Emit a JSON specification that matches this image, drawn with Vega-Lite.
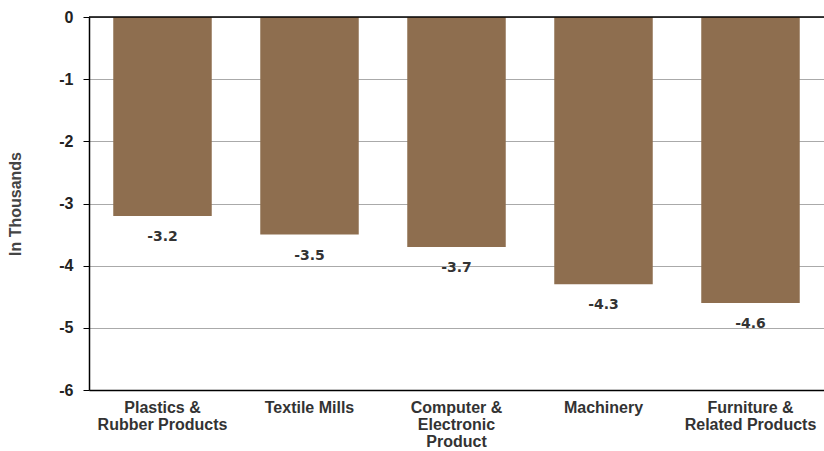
{
  "$schema": "https://vega.github.io/schema/vega-lite/v6.json",
  "width": 735,
  "height": 373,
  "autosize": "none",
  "padding": {"left": 89, "top": 17, "right": 0, "bottom": 61},
  "background": "white",
  "config": {"view": {"stroke": null}, "font": "Liberation Sans",
    "locale": {"number": {"decimal": ".", "thousands": ",", "grouping": [3], "currency": ["$", ""], "minus": "-"}}},
  "data": {"values": [
    {"category": "Plastics &|Rubber Products", "value": -3.2},
    {"category": "Textile Mills", "value": -3.5},
    {"category": "Computer &|Electronic|Product", "value": -3.7},
    {"category": "Machinery", "value": -4.3},
    {"category": "Furniture &|Related Products", "value": -4.6}
  ]},
  "encoding": {
    "x": {"field": "category", "type": "nominal", "sort": null,
      "scale": {"paddingInner": 0.33, "paddingOuter": 0.165},
      "axis": {"title": null, "labelAngle": 0, "labelExpr": "split(datum.label, '|')",
        "labelFont": "Liberation Sans", "labelFontWeight": "bold", "labelFontSize": 16, "labelColor": "#333333",
        "labelPadding": 9, "labelLineHeight": 17, "ticks": false, "domainColor": "#000000", "domainWidth": 1.5,
        "labelBaseline": "top", "labelOverlap": false, "labelBound": false}}
  },
  "layer": [
    {
      "mark": {"type": "bar", "color": "#8E6E4F"},
      "encoding": {
        "y": {"field": "value", "type": "quantitative",
          "scale": {"domain": [-6, 0], "nice": false},
          "axis": {"title": "In Thousands", "titleFont": "Liberation Sans", "titleFontSize": 16, "titleFontWeight": "bold", "titleColor": "#444444",
            "titlePadding": 35, "values": [0, -1, -2, -3, -4, -5, -6], "labelOverlap": false, "format": "d",
            "labelFont": "Liberation Sans", "labelFontWeight": "bold", "labelFontSize": 16, "labelColor": "#222222",
            "labelPadding": 10, "tickSize": 6, "tickColor": "#000000", "domainColor": "#000000", "domainWidth": 1.5,
            "gridColor": "#aaaaaa", "gridWidth": 1}}
      }
    },
    {
      "mark": {"type": "text", "baseline": "middle", "dy": 21, "font": "DejaVu Sans", "fontWeight": "bold", "fontSize": 14, "color": "#333333"},
      "encoding": {
        "y": {"field": "value", "type": "quantitative"},
        "text": {"field": "value", "type": "quantitative", "format": ".1f"}
      }
    },
    {
      "data": {"values": [{"z": 0}]},
      "mark": {"type": "rule", "color": "#000000", "strokeWidth": 1.5},
      "encoding": {"y": {"field": "z", "type": "quantitative"}, "x": null}
    }
  ]
}
